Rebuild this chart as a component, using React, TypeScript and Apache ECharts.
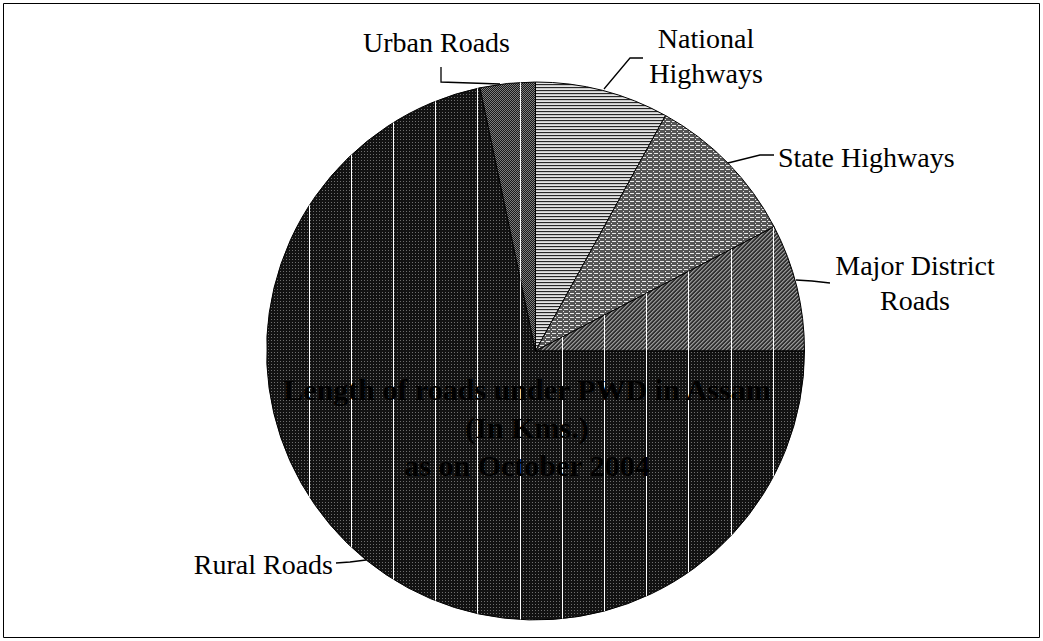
import React, { useEffect, useRef } from 'react';
import * as echarts from 'echarts';

// ---- data ----
const categories = ['National Highways', 'State Highways', 'Major District Roads', 'Rural Roads', 'Urban Roads'];
const labelTexts = ['National\nHighways', 'State Highways', 'Major District\nRoads', 'Rural Roads', 'Urban Roads'];
const lengthsKm = [2840, 3300, 2700, 25350, 1170];
const titleLines = ['Length of roads under PWD in Assam', '(In Kms.)', 'as on October 2004'];

const SERIF = "'Liberation Serif', 'Times New Roman', serif";

type PixFn = (x: number, y: number) => number;

function makeTile(w: number, h: number, fn: PixFn): string {
  const c = document.createElement('canvas');
  c.width = w;
  c.height = h;
  const ctx = c.getContext('2d')!;
  const img = ctx.createImageData(w, h);
  for (let y = 0; y < h; y++) {
    for (let x = 0; x < w; x++) {
      const v = fn(x, y);
      const i = (y * w + x) * 4;
      if (v < 0) {
        img.data[i + 3] = 0;
      } else {
        img.data[i] = v;
        img.data[i + 1] = v;
        img.data[i + 2] = v;
        img.data[i + 3] = 255;
      }
    }
  }
  ctx.putImageData(img, 0, 0);
  return c.toDataURL();
}

function pattern(w: number, h: number, fn: PixFn) {
  return { image: makeTile(w, h, fn), repeat: 'repeat', imageWidth: w, imageHeight: h } as any;
}

// label placement (styles, not data)
const labelPos = [
  { x: 706, y: 56, align: 'center', pts: [[604, 89], [630, 58], [643, 58]] },
  { x: 778, y: 157, align: 'left', pts: [[728, 163], [760, 155], [774, 155]] },
  { x: 915, y: 283, align: 'center', pts: [[796, 280], [812, 281], [830, 283]] },
  { x: 333, y: 564, align: 'right', pts: [[366, 560], [350, 562], [336, 563]] },
  { x: 363, y: 42, align: 'left', pts: [[500, 84], [441, 82], [441, 67]] },
];

export default function App() {
  const ref = useRef<HTMLDivElement>(null);
  useEffect(() => {
    if (!ref.current) return;
    const chart = echarts.init(ref.current, undefined, { renderer: 'svg' });

    const fills = [
      pattern(4, 3, (x, y) => (y === 0 ? 40 : y === 1 ? 200 : 228)),
      pattern(6, 4, (x, y) => ((y === 1 && x < 4) || (y === 3 && x === 5) ? 232 : 85)),
      pattern(4, 4, (x, y) => ((x + y) % 4 === 3 ? 150 : (x + y) % 4 === 0 ? 110 : 50)),
      pattern(3, 3, (x, y) => (x === 1 && y === 1 ? 110 : 18)),
      pattern(2, 2, (x, y) => (x === y ? 125 : 25)),
    ];
    // vertical white lines (period ~42.2px)
    const linePeriod = 42.2;
    const lineCols = new Set<number>();
    for (let k = 0; k < 10; k++) lineCols.add(Math.round(13.2 + linePeriod * k));
    const lines = pattern(422, 2, (x) => (lineCols.has(x) ? 255 : -1));
    const overlay = [null, null, lines, lines, lines];

    const center = [535.5, 351];
    const radius = 269;

    const labelStyle = {
      show: true,
      position: 'outside',
      color: '#000',
      fontFamily: SERIF,
      fontWeight: 'normal',
      fontSize: 28,
      lineHeight: 35,
    };

    chart.setOption({
      animation: false,
      backgroundColor: '#fff',
      textStyle: { fontFamily: SERIF },
      series: [
        {
          type: 'pie',
          center,
          radius,
          startAngle: 90,
          clockwise: true,
          avoidLabelOverlap: false,
          data: categories.map((name, i) => ({
            name,
            value: lengthsKm[i],
            itemStyle: { color: fills[i] },
            label: { ...labelStyle, formatter: labelTexts[i] },
          })),
          itemStyle: { borderColor: '#000', borderWidth: 1 },
          label: labelStyle,
          labelLine: { show: true, smooth: false, lineStyle: { color: '#000', width: 1.3 } },
          labelLayout: (p: any) => {
            const lp = labelPos[p.dataIndex];
            return {
              x: lp.x,
              y: lp.y,
              align: lp.align,
              verticalAlign: 'middle',
              labelLinePoints: lp.pts,
            };
          },
          emphasis: { disabled: true },
        },
        {
          type: 'pie',
          center,
          radius,
          startAngle: 90,
          clockwise: true,
          silent: true,
          label: { show: false },
          labelLine: { show: false },
          data: categories.map((name, i) => ({
            name,
            value: lengthsKm[i],
            itemStyle: { color: overlay[i] || 'rgba(0,0,0,0)', borderWidth: 0 },
          })),
          emphasis: { disabled: true },
        },
      ],
      graphic: [
        {
          type: 'rect',
          shape: { x: 3.5, y: 3.5, width: 1036, height: 634 },
          style: { fill: 'none', stroke: '#000', lineWidth: 1 },
          z: 100,
        },
        {
          type: 'text',
          x: 527,
          y: 370,
          z: 100,
          style: {
            text: titleLines.join('\n'),
            fill: '#000',
            fontFamily: SERIF,
            fontWeight: 'bold',
            fontSize: 30,
            textAlign: 'center',
            textVerticalAlign: 'top',
            lineHeight: 38,
          },
        },
      ],
    });
    return () => chart.dispose();
  }, []);
  return (
    <div
      ref={ref}
      style={{ position: 'fixed', left: 0, top: 0, width: 1043, height: 641, background: '#fff' }}
    />
  );
}
